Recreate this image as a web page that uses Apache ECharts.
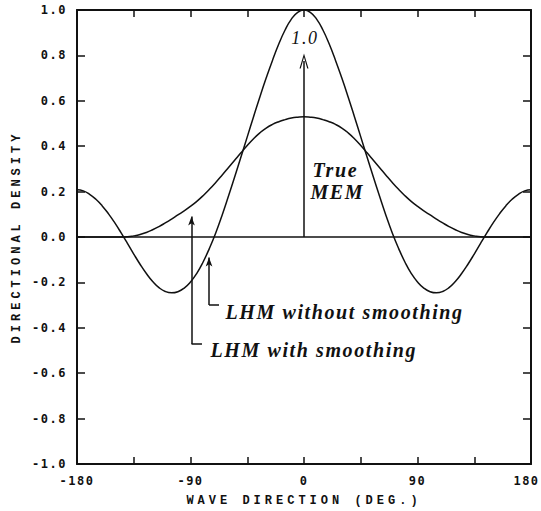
<!DOCTYPE html>
<html>
<head>
<meta charset="utf-8">
<script src="https://cdn.jsdelivr.net/npm/echarts@6/dist/echarts.min.js"></script>
<style>
  html, body { margin: 0; padding: 0; background: #fff; }
  #chart { width: 541px; height: 511px; }
  /* plotter-style wide lettering */
  #chart text[style*="DejaVu Sans Mono"] { letter-spacing: 1.5px; }
  #chart text[style*="Liberation Mono"] { letter-spacing: 4px; }
  #chart text[style*="Liberation Serif"] { letter-spacing: 1.6px; }
</style>
</head>
<body>
<div id="chart"></div>
<script>
// wave direction (deg.), every 5 degrees
const directions = [
    -180, -175, -170, -165, -160, -155, -150, -145, -140, -135, -130, -125, -120, -115, -110, -105, -100, -95,
    -90, -85, -80, -75, -70, -65, -60, -55, -50, -45, -40, -35, -30, -25, -20, -15, -10, -5,
    0, 5, 10, 15, 20, 25, 30, 35, 40, 45, 50, 55, 60, 65, 70, 75, 80, 85,
    90, 95, 100, 105, 110, 115, 120, 125, 130, 135, 140, 145, 150, 155, 160, 165, 170, 175, 180];

// LHM without smoothing (oscillating, peak 1.0)
const lhmRaw = [
    0.208, 0.203, 0.188, 0.166, 0.137, 0.102, 0.062, 0.018, -0.028, -0.075, -0.120, -0.161, -0.196, -0.223, -0.240, -0.246, -0.241, -0.225,
    -0.198, -0.160, -0.110, -0.050, 0.018, 0.095, 0.178, 0.264, 0.352, 0.441, 0.530, 0.617, 0.700, 0.778, 0.850, 0.912, 0.960, 0.990,
    1.000, 0.990, 0.960, 0.912, 0.850, 0.778, 0.700, 0.617, 0.530, 0.441, 0.352, 0.264, 0.178, 0.095, 0.018, -0.050, -0.110, -0.160,
    -0.198, -0.225, -0.241, -0.246, -0.240, -0.223, -0.196, -0.161, -0.120, -0.075, -0.028, 0.018, 0.062, 0.102, 0.137, 0.166, 0.188, 0.203, 0.208];

// LHM with smoothing (broad)
const lhmSmooth = [
    0.000, 0.000, 0.000, 0.000, 0.000, 0.000, 0.000, 0.000, 0.001, 0.005, 0.011, 0.020, 0.032, 0.046, 0.062, 0.079, 0.097, 0.115,
    0.135, 0.157, 0.182, 0.210, 0.240, 0.272, 0.305, 0.338, 0.371, 0.403, 0.433, 0.459, 0.480, 0.496, 0.508, 0.517, 0.524, 0.528,
    0.530, 0.528, 0.524, 0.517, 0.508, 0.496, 0.480, 0.459, 0.433, 0.403, 0.371, 0.338, 0.305, 0.272, 0.240, 0.210, 0.182, 0.157,
    0.135, 0.115, 0.097, 0.079, 0.062, 0.046, 0.032, 0.020, 0.011, 0.005, 0.001, 0.000, 0.000, 0.000, 0.000, 0.000, 0.000, 0.000, 0.000];

const xTicks = [-180, -90, 0, 90, 180];

// annotation pointers, in data units (arrow heads sit centred on the end point)
const trueArrow = [[0, 0], [0, 0.775]];
const smoothPointer = [[-89.2, -0.471], [-89.2, 0.09], [-80.9, -0.471]];
const rawPointer = [[-75.3, -0.30], [-75.3, -0.09], [-67.4, -0.30]];

const notes = [
    { name: '1.0', coord: [0.8, 0.877], bold: false, size: 18, center: true },
    { name: 'True', coord: [6.3, 0.295], bold: true, size: 20 },
    { name: 'MEM', coord: [4.7, 0.198], bold: true, size: 20 },
    { name: 'LHM without smoothing', coord: [-62.6, -0.33], bold: true, size: 20 },
    { name: 'LHM with smoothing', coord: [-74.5, -0.497], bold: true, size: 20 }
];

const ink = '#111';
const openArrow = 'path://M50,0 L100,100 L86,100 L50,24 L14,100 L0,100 Z';
const pair = (xs, ys) => xs.map((x, i) => [x, ys[i]]);

const chart = echarts.init(document.getElementById('chart'), null, { renderer: 'svg' });

const tickFont = { color: ink, fontFamily: 'DejaVu Sans Mono', fontWeight: 'bold', fontSize: 12 };
const nameFont = { color: ink, fontFamily: 'Liberation Mono', fontWeight: 'bold', fontSize: 12 };

const option = {
    backgroundColor: '#fff',
    animation: false,
    grid: { left: 77, right: 10, top: 10, bottom: 47, outerBoundsMode: 'none' },
    xAxis: [{
        type: 'value', min: -180, max: 180, interval: 45,
        name: 'WAVE DIRECTION (DEG.)', nameLocation: 'middle', nameGap: 31, nameTextStyle: nameFont,
        axisLine: { onZero: false, lineStyle: { color: ink, width: 2 } },
        axisTick: { inside: true, length: 7, lineStyle: { color: ink, width: 1.5 } },
        axisLabel: {
            ...tickFont, margin: 11,
            // last label pulled in a little so it stays on the page
            formatter: v => v === 180 ? '{e|180}' : (xTicks.includes(v) ? String(v) : ''),
            rich: { e: { ...tickFont, padding: [0, 9, 0, 0] } }
        },
        splitLine: { show: false }
    }, {
        type: 'value', min: -180, max: 180, interval: 45, position: 'top',
        axisLine: { onZero: false, lineStyle: { color: ink, width: 2 } },
        axisTick: { inside: true, length: 7, lineStyle: { color: ink, width: 1.5 } },
        axisLabel: { show: false }, splitLine: { show: false }
    }],
    yAxis: [{
        type: 'value', min: -1, max: 1, interval: 0.2,
        name: 'DIRECTIONAL DENSITY', nameLocation: 'middle', nameGap: 54, nameTextStyle: nameFont,
        axisLine: { onZero: false, lineStyle: { color: ink, width: 2 } },
        axisTick: { inside: true, length: 8, lineStyle: { color: ink, width: 1.5 } },
        axisLabel: { ...tickFont, margin: 10, formatter: v => (Math.abs(v) < 1e-9 ? 0 : v).toFixed(1) },
        splitLine: { show: false }
    }, {
        type: 'value', min: -1, max: 1, interval: 0.2, position: 'right',
        axisLine: { onZero: false, lineStyle: { color: ink, width: 2 } },
        axisTick: { inside: true, length: 8, lineStyle: { color: ink, width: 1.5 } },
        axisLabel: { show: false }, splitLine: { show: false }
    }],
    series: [{
        name: 'LHM without smoothing',
        type: 'line', smooth: true, showSymbol: false, silent: true,
        data: pair(directions, lhmRaw),
        lineStyle: { color: ink, width: 1.5 },
        markLine: {
            silent: true, animation: false,
            label: { show: false },
            lineStyle: { color: ink, width: 1.5, type: 'solid' },
            data: [
                [{ yAxis: 0, x: 77, symbol: 'none' }, { yAxis: 0, x: 531, symbol: 'none' }],
                [{ coord: trueArrow[0], symbol: 'none' }, { coord: trueArrow[1], symbol: openArrow, symbolSize: [9, 15] }],
                [{ coord: smoothPointer[0], symbol: 'none' }, { coord: smoothPointer[1], symbol: 'arrow', symbolSize: [5, 9] }],
                [{ coord: smoothPointer[0], symbol: 'none' }, { coord: smoothPointer[2], symbol: 'none' }],
                [{ coord: rawPointer[0], symbol: 'none' }, { coord: rawPointer[1], symbol: 'arrow', symbolSize: [5, 9] }],
                [{ coord: rawPointer[0], symbol: 'none' }, { coord: rawPointer[2], symbol: 'none' }]
            ]
        },
        markPoint: {
            silent: true, animation: false,
            symbol: 'circle', symbolSize: 1,
            itemStyle: { color: 'rgba(0,0,0,0)' },
            data: notes.map(n => ({
                name: n.name, coord: n.coord,
                label: {
                    show: true, formatter: '{b}',
                    position: n.center ? 'inside' : 'right', distance: 0,
                    color: ink, fontFamily: 'Liberation Serif',
                    fontStyle: 'italic', fontWeight: n.bold ? 'bold' : 'normal', fontSize: n.size
                }
            }))
        }
    }, {
        name: 'LHM with smoothing',
        type: 'line', smooth: true, showSymbol: false, silent: true,
        data: pair(directions, lhmSmooth),
        lineStyle: { color: ink, width: 1.5 }
    }]
};

chart.setOption(option);
window.addEventListener('resize', () => chart.resize());
</script>
</body>
</html>
